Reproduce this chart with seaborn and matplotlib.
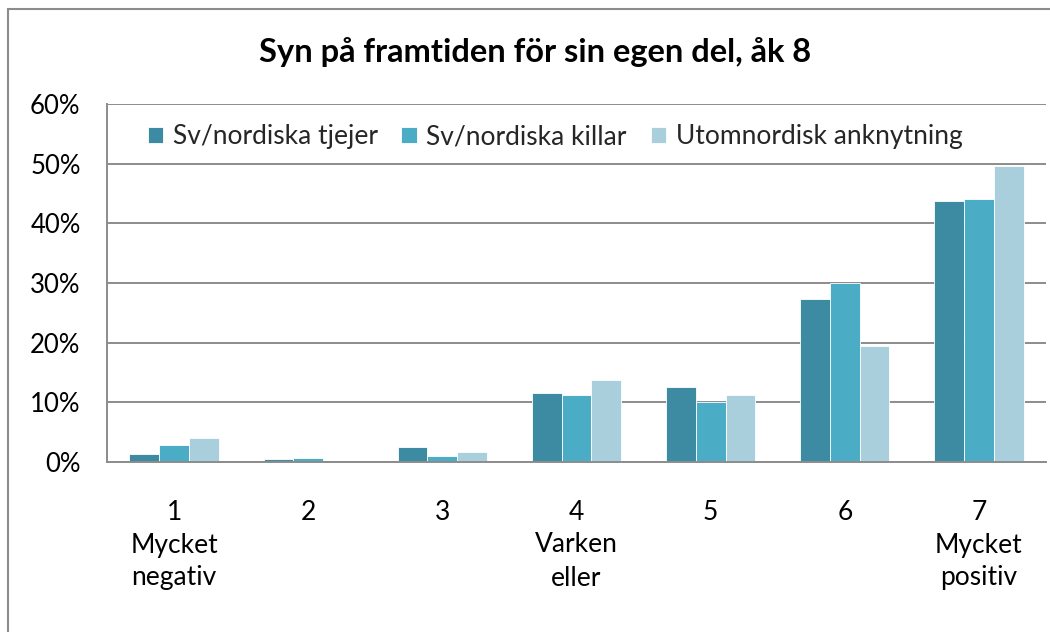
import matplotlib
matplotlib.use("Agg")
import matplotlib.pyplot as plt
import seaborn as sns
import pandas as pd
from matplotlib.patches import Rectangle
from matplotlib.ticker import PercentFormatter, MultipleLocator

# Response scale 1-7 with labels on the anchor points
categories = ["1\nMycket\nnegativ", "2", "3", "4\nVarken\neller", "5", "6", "7\nMycket\npositiv"]
series = ["Sv/nordiska tjejer", "Sv/nordiska killar", "Utomnordisk anknytning"]

# Share of pupils (%) per answer
tjejer = [1.4, 0.5, 2.5, 11.6, 12.5, 27.3, 43.8]
killar = [2.8, 0.6, 1.0, 11.2, 10.1, 30.0, 44.1]
utomnordisk = [4.0, 0.0, 1.6, 13.7, 11.3, 19.4, 49.6]

colors = ["#3C8BA2", "#4BACC6", "#A9CFDD"]
title = "Syn på framtiden för sin egen del, åk 8"

df = pd.DataFrame({
    "kategori": categories * 3,
    "grupp": [series[0]] * 7 + [series[1]] * 7 + [series[2]] * 7,
    "andel": tjejer + killar + utomnordisk,
})

sns.set_theme(style="white")
plt.rcParams["font.family"] = ["Lato", "DejaVu Sans"]

fig = plt.figure(figsize=(10.5, 6.32), dpi=100)
ax = fig.add_axes([107 / 1050, 1 - 462 / 632, 939 / 1050, 358 / 632])

sns.barplot(data=df, x="kategori", y="andel", hue="grupp", order=categories,
            hue_order=series, palette=colors, width=0.665, gap=0,
            edgecolor="white", linewidth=0.6, saturation=1, ax=ax)

grid_col = "#8C8C8C"
ax.set_ylim(0, 60)
ax.set_xlim(-0.5, 6.5)
ax.yaxis.set_major_locator(MultipleLocator(10))
ax.yaxis.set_major_formatter(PercentFormatter(decimals=0))
ax.grid(axis="y", color=grid_col, linewidth=1.4)
ax.set_axisbelow(True)
for side in ["top", "right"]:
    ax.spines[side].set_visible(False)
for side in ["left", "bottom"]:
    ax.spines[side].set_color(grid_col)
    ax.spines[side].set_linewidth(1.4)
ax.set_xlabel("")
ax.set_ylabel("")
ax.tick_params(axis="y", length=0, pad=19, labelsize=18.5, labelcolor="black")
ax.tick_params(axis="x", length=0, pad=27, labelsize=19, labelcolor="black")
for lbl in ax.get_xticklabels():
    lbl.set_linespacing(1.4)

leg = ax.legend(loc="upper left", bbox_to_anchor=(30 / 939, 0.973), ncol=3,
                frameon=False, fontsize=19, handlelength=0.6, handleheight=0.6,
                handletextpad=0.35, columnspacing=0.9, borderaxespad=0)

fig.text(535 / 1050, 1 - 52 / 632, title, ha="center", va="center",
         fontsize=23.5, fontweight="bold", color="black")

# Chart frame
fig.patches.append(Rectangle((8 / 1050, -0.1), 1.2, 1 - 9 / 632 + 0.1,
                             transform=fig.transFigure, fill=False,
                             edgecolor=grid_col, linewidth=1.5))

fig.savefig("out.png", dpi=100)
